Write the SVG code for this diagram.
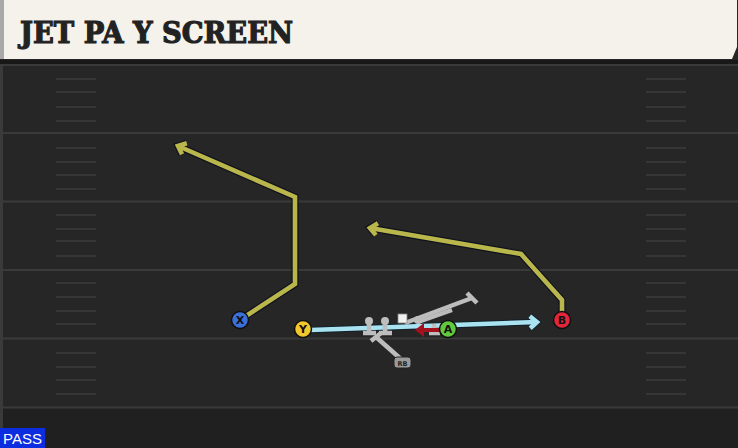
<svg xmlns="http://www.w3.org/2000/svg" width="738" height="448" viewBox="0 0 738 448">
<style>
.yl{stroke:#3a3a3a;stroke-width:2}
.hm{stroke:#3c3c3c;stroke-width:1.6}
.ro{fill:none;stroke:#10121e;stroke-width:7;stroke-linejoin:miter}
.rc{fill:none;stroke:#b9b74c;stroke-width:4.6;stroke-linejoin:miter}
.bo{fill:none;stroke:#12202a;stroke-width:6.5}
.bc{fill:none;stroke:#a9e3f1;stroke-width:4.5}
.blk{fill:none;stroke:#bdbdbd;stroke-width:4.5;stroke-linecap:butt}
.pl{stroke:#101010;stroke-width:1.5}
.lt{font-family:"DejaVu Sans","Liberation Sans",sans-serif;font-weight:bold;font-size:11px;fill:#111;text-anchor:middle}
</style>
<defs>
<marker id="mo" markerUnits="userSpaceOnUse" markerWidth="20" markerHeight="20" viewBox="-10 -10 20 20" refX="0" refY="0" orient="auto"><path d="M-7,-6 L0,0 L-7,6" fill="none" stroke="#10121e" stroke-width="7"/></marker>
<marker id="mc" markerUnits="userSpaceOnUse" markerWidth="20" markerHeight="20" viewBox="-10 -10 20 20" refX="0" refY="0" orient="auto"><path d="M-7,-6 L0,0 L-7,6" fill="none" stroke="#b9b74c" stroke-width="4.6"/></marker>
<marker id="bo" markerUnits="userSpaceOnUse" markerWidth="20" markerHeight="20" viewBox="-10 -10 20 20" refX="0" refY="0" orient="auto"><path d="M-7,-6 L0,0 L-7,6" fill="none" stroke="#12202a" stroke-width="6.5"/></marker>
<marker id="bc" markerUnits="userSpaceOnUse" markerWidth="20" markerHeight="20" viewBox="-10 -10 20 20" refX="0" refY="0" orient="auto"><path d="M-7,-6 L0,0 L-7,6" fill="none" stroke="#a9e3f1" stroke-width="4.5"/></marker>
</defs>
<rect width="738" height="448" fill="#262626"/>
<rect x="0" y="408" width="738" height="40" fill="#202020"/>
<rect x="0" y="60" width="738" height="4" fill="#181818"/>
<rect x="0" y="64" width="3" height="384" fill="#3a3a3a"/>
<g id="field">
<line class="yl" x1="0" y1="65" x2="738" y2="65"/>
<line class="yl" x1="0" y1="133" x2="738" y2="133"/>
<line class="yl" x1="0" y1="201.5" x2="738" y2="201.5"/>
<line class="yl" x1="0" y1="270" x2="738" y2="270"/>
<line class="yl" x1="0" y1="338.5" x2="738" y2="338.5"/>
<line class="yl" x1="0" y1="407.5" x2="738" y2="407.5"/>
<path class="hm" d="M56,79H96M56,92H96M56,107H96M56,121H96M56,148H96M56,162H96M56,175H96M56,189H96M56,215H96M56,229H96M56,241H96M56,256H96M56,283H96M56,297H96M56,311H96M56,324H96M56,353H96M56,367H96M56,380H96M56,394H96"/>
<path class="hm" d="M646,79H686M646,92H686M646,107H686M646,121H686M646,148H686M646,162H686M646,175H686M646,189H686M646,215H686M646,229H686M646,241H686M646,256H686M646,283H686M646,297H686M646,311H686M646,324H686M646,353H686M646,367H686M646,380H686M646,394H686"/>
</g>
<g id="header">
<path d="M0,0H737V47L732,59H0Z" fill="#f5f2eb"/>
<rect x="0" y="0" width="4" height="59" fill="#a9a9a9"/>
<text x="20" y="43" font-family="'DejaVu Serif','Liberation Serif',serif" font-weight="bold" font-size="29" fill="#222" stroke="#222" stroke-width="1.2" textLength="273" lengthAdjust="spacingAndGlyphs">JET PA Y SCREEN</text>
</g>
<g id="connectors">
<path class="ro" d="M240,320 L295,284 L295,197 L178,146" marker-end="url(#mo)"/>
<path class="rc" d="M240,320 L295,284 L295,197 L178,146" marker-end="url(#mc)"/>
<path class="ro" d="M562,312 L562,300 L521,254 L370,228" marker-end="url(#mo)"/>
<path class="rc" d="M562,312 L562,300 L521,254 L370,228" marker-end="url(#mc)"/>
<path class="bo" d="M310,330 L537,322" marker-end="url(#bo)"/>
<path class="bc" d="M310,330 L537,322" marker-end="url(#bc)"/>
<path class="blk" d="M405,323 L472,298 M467,293 L477,303"/>
<path class="blk" d="M418,322 L452,310"/>
<path class="blk" d="M369,323V333 M363,333H376"/>
<path class="blk" d="M385,323V333 M379,333H392"/>
<path class="blk" d="M434,324V333 M429,333H440"/>
<path class="blk" d="M402,360 L376,337 M371,341 L381,333"/>
<path d="M440,330 L421,330" stroke="#a3101e" stroke-width="4" fill="none"/>
<path d="M424,323 L415,330 L424,337Z" fill="#a3101e"/>
</g>
<g id="OL">
<circle cx="369" cy="321" r="4" fill="#bdbdbd"/>
<circle cx="385" cy="321" r="4" fill="#bdbdbd"/>
<circle cx="418" cy="320" r="4" fill="#bdbdbd"/>
<rect x="398" y="314" width="9" height="9" fill="#f0f0f0" stroke="#888" stroke-width="0.8"/>
</g>
<g id="RB">
<rect x="394" y="357" width="17" height="11" rx="3" fill="#9a9a9a" stroke="#222" stroke-width="1"/>
<text x="402.5" y="365.5" font-family="'DejaVu Sans',sans-serif" font-weight="bold" font-size="6.5" fill="#222" text-anchor="middle">RB</text>
</g>
<g id="X"><circle class="pl" cx="240" cy="320" r="8.5" fill="#3b6fd9"/><text class="lt" x="240" y="324">X</text></g>
<g id="Y"><circle class="pl" cx="303" cy="329" r="8.5" fill="#f2c72b"/><text class="lt" x="303" y="333">Y</text></g>
<g id="A"><circle class="pl" cx="448" cy="329" r="8.5" fill="#62c93c"/><text class="lt" x="448" y="333">A</text></g>
<g id="B"><circle class="pl" cx="562" cy="320" r="8.5" fill="#e2273c"/><text class="lt" x="562" y="324">B</text></g>
<g id="pass">
<rect x="0" y="428" width="45" height="20" fill="#0c2ee0"/>
<text x="3" y="444" font-family="'Liberation Sans',Arial,sans-serif" font-size="15" fill="#ffffff">PASS</text>
</g>
</svg>
